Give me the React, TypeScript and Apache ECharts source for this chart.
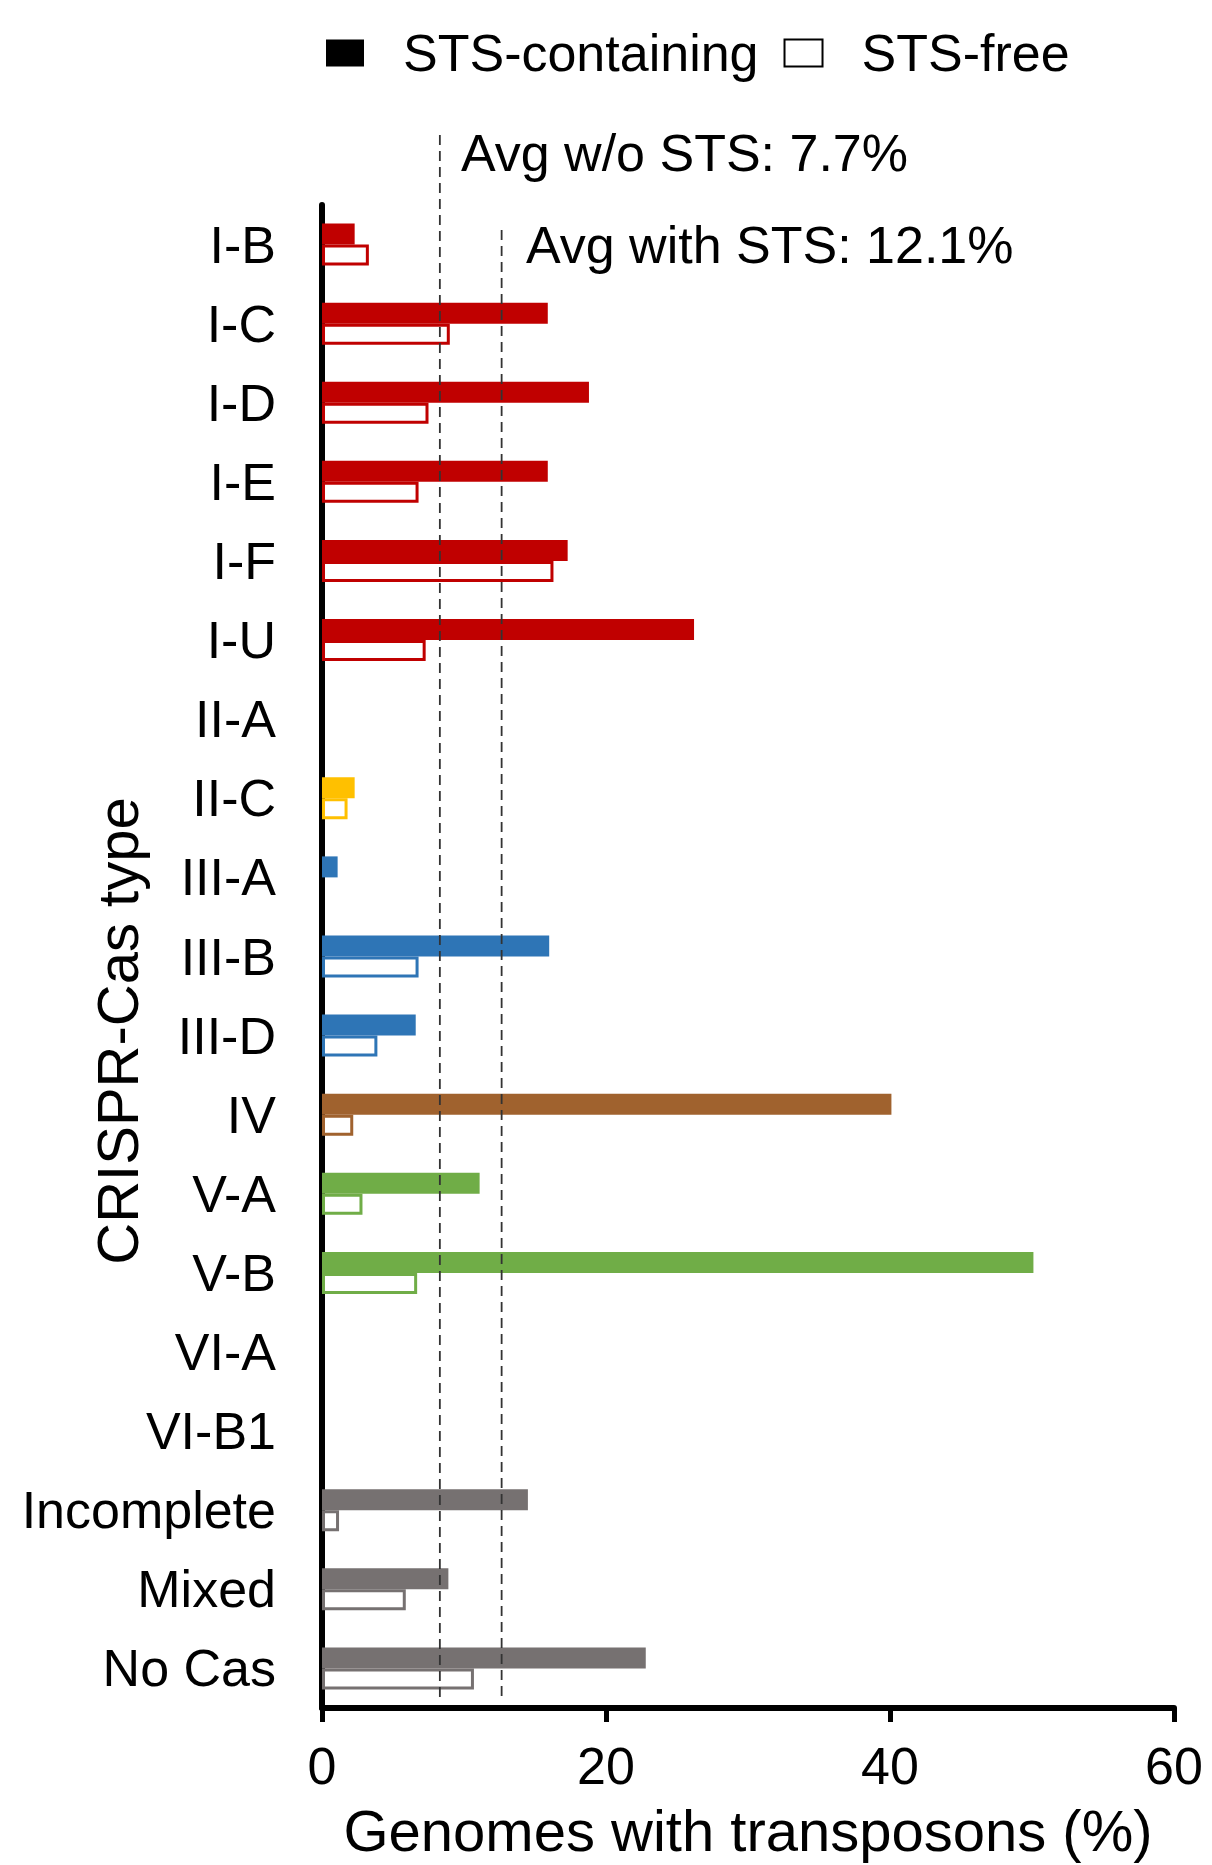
import React, { useEffect, useRef } from "react";
import * as echarts from "echarts";

const categories = [
  "I-B", "I-C", "I-D", "I-E", "I-F", "I-U", "II-A", "II-C", "III-A", "III-B",
  "III-D", "IV", "V-A", "V-B", "VI-A", "VI-B1", "Incomplete", "Mixed", "No Cas",
];
const stsContaining = [2.3, 15.9, 18.8, 15.9, 17.3, 26.2, 0, 2.3, 1.1, 16.0, 6.6, 40.1, 11.1, 50.1, 0, 0, 14.5, 8.9, 22.8];
const stsFree = [3.3, 9.0, 7.5, 6.8, 16.3, 7.3, 0, 1.8, 0, 6.8, 3.9, 2.2, 2.85, 6.7, 0, 0, 1.2, 5.9, 10.7];
const groupColors = [
  "#C00000", "#C00000", "#C00000", "#C00000", "#C00000", "#C00000", "#FFC000", "#FFC000",
  "#2E75B6", "#2E75B6", "#2E75B6", "#A0622E", "#70AD47", "#70AD47", "#767171", "#767171",
  "#767171", "#767171", "#767171",
];
const avgWithout = 8.3;
const avgWith = 12.65;
const avgWithoutLabel = "Avg w/o STS: 7.7%";
const avgWithLabel = "Avg with STS: 12.1%";
const xTicks = { min: 0, max: 60, interval: 20 };

const FONT = "'Liberation Sans', Arial, Helvetica, sans-serif";

export default function App() {
  const ref = useRef<HTMLDivElement>(null);
  useEffect(() => {
    if (!ref.current) return;
    const chart = echarts.init(ref.current, null, { renderer: "svg" });
    const filledData = stsContaining.map((v, i) =>
      v > 0 ? { value: v, itemStyle: { color: groupColors[i] } } : null
    );
    const freeData = stsFree.map((v, i) =>
      v > 0
        ? { value: v, itemStyle: { color: "#ffffff", borderColor: groupColors[i], borderWidth: 3 } }
        : null
    );
    chart.setOption({
      animation: false,
      backgroundColor: "#ffffff",
      textStyle: { fontFamily: FONT },
      legend: {
        left: 321,
        top: 22,
        icon: "rect",
        itemWidth: 38,
        itemHeight: 27,
        itemGap: 25,
        textStyle: { fontSize: 52, color: "#000", fontFamily: FONT, padding: [0, 0, 0, 34] },
        data: ["STS-containing", "STS-free"],
      },
      grid: { left: 322, right: 38, top: 205, bottom: 157, containLabel: false },
      xAxis: {
        type: "value",
        min: xTicks.min,
        max: xTicks.max,
        interval: xTicks.interval,
        axisLine: { show: true, lineStyle: { color: "#000", width: 6 } },
        axisTick: { show: true, inside: false, length: 14, lineStyle: { color: "#000", width: 5 } },
        splitLine: { show: false },
        axisLabel: { fontSize: 52, color: "#000", margin: 32, fontFamily: FONT },
        name: "Genomes with transposons (%)",
        nameLocation: "middle",
        nameGap: 122,
        nameTextStyle: { fontSize: 58, color: "#000", verticalAlign: "middle", fontFamily: FONT },
      },
      yAxis: {
        type: "category",
        inverse: true,
        data: categories,
        axisLine: { show: true, lineStyle: { color: "#000", width: 6 } },
        axisTick: { show: false },
        axisLabel: { fontSize: 52, color: "#000", margin: 46, fontFamily: FONT },
      },
      series: [
        {
          name: "STS-containing",
          type: "bar",
          data: filledData,
          barWidth: 21,
          barGap: "0%",
          itemStyle: { color: "#000" },
        },
        {
          name: "STS-free",
          type: "bar",
          data: freeData,
          barWidth: 21,
          barGap: "0%",
          itemStyle: { color: "#ffffff", borderColor: "#000", borderWidth: 2 },
        },
      ],
    });
    const x1 = chart.convertToPixel({ xAxisIndex: 0 }, avgWithout) as number;
    const x2 = chart.convertToPixel({ xAxisIndex: 0 }, avgWith) as number;
    const yBottom = chart.convertToPixel({ yAxisIndex: 0 }, categories[categories.length - 1]) as number;
    const lineStyle = { stroke: "#333", lineWidth: 1.8, lineDash: [10, 6] };
    chart.setOption({
      graphic: [
        { type: "line", shape: { x1: x1, y1: 135, x2: x1, y2: yBottom + 32 }, style: lineStyle, z: 5 },
        { type: "line", shape: { x1: x2, y1: 230, x2: x2, y2: yBottom + 32 }, style: lineStyle, z: 5 },
        {
          type: "text",
          left: 461,
          top: 127,
          style: { text: avgWithoutLabel, fontSize: 52, fill: "#000", font: `52px ${FONT}` },
          z: 6,
        },
        {
          type: "text",
          left: 526,
          top: 219,
          style: { text: avgWithLabel, fontSize: 52, fill: "#000", font: `52px ${FONT}` },
          z: 6,
        },
        {
          type: "text",
          x: 117,
          y: 1031,
          rotation: Math.PI / 2,
          style: {
            text: "CRISPR-Cas type",
            fontSize: 58,
            fill: "#000",
            font: `58px ${FONT}`,
            align: "center",
            verticalAlign: "middle",
          },
          z: 6,
        },
      ],
    });
    return () => chart.dispose();
  }, []);
  return (
    <div
      ref={ref}
      style={{ position: "absolute", left: 0, top: 0, width: 1212, height: 1865, background: "#fff" }}
    />
  );
}
